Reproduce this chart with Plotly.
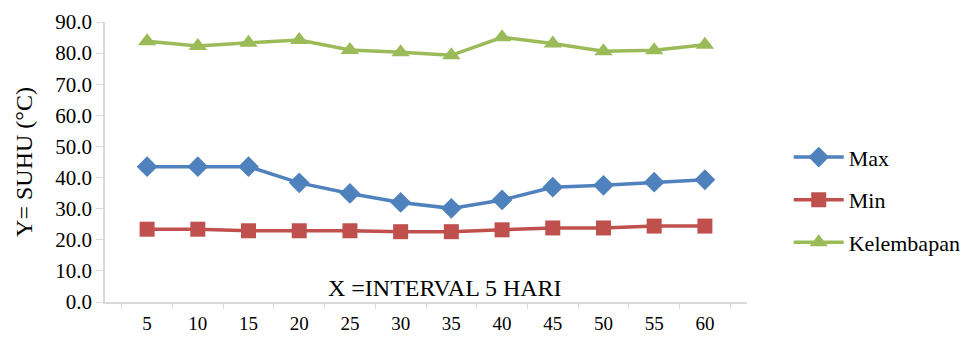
import plotly.graph_objects as go

categories = ["5", "10", "15", "20", "25", "30", "35", "40", "45", "50", "55", "60"]
max_vals = [43.5, 43.5, 43.5, 38.3, 34.9, 32.0, 30.1, 32.8, 36.9, 37.5, 38.5, 39.3]
min_vals = [23.4, 23.4, 22.9, 22.9, 22.9, 22.6, 22.6, 23.2, 23.8, 23.8, 24.4, 24.4]
kelembapan_vals = [83.8, 82.3, 83.3, 84.2, 81.0, 80.3, 79.3, 85.1, 83.1, 80.6, 80.9, 82.7]
y_ticks = [0, 10, 20, 30, 40, 50, 60, 70, 80, 90]

FONT = "'Liberation Serif', 'DejaVu Serif', serif"
fig = go.Figure()
series = [
    ("Max", max_vals, "#4F81BD", "diamond", 16),
    ("Min", min_vals, "#C0504D", "square", 15),
    ("Kelembapan", kelembapan_vals, "#9BBB59", "triangle-up", 16),
]
for name, vals, color, sym, size in series:
    fig.add_trace(go.Scatter(
        x=categories, y=vals, name=name, mode="lines+markers",
        legendgroup=name,
        line=dict(color=color, width=3.5),
        marker=dict(symbol=sym, size=size, color=color),
    ))

fig.update_layout(
    width=970, height=330,
    margin=dict(l=97, r=225, t=14, b=36),
    paper_bgcolor="white", plot_bgcolor="white",
    font=dict(family=FONT, size=18, color="black"),
    showlegend=True,
    legend=dict(x=1.065, y=0.365, xanchor="left", yanchor="middle",
                font=dict(family=FONT, size=22), tracegroupgap=11, itemwidth=50,
                bgcolor="rgba(0,0,0,0)"),
    xaxis=dict(type="category", showgrid=False, showline=True, linecolor="#d9d9d9",
               linewidth=1.5, ticks="outside", tickson="boundaries", ticklen=5,
               tickcolor="#d9d9d9", tickfont=dict(family=FONT, size=19), zeroline=False,
               automargin=False, ticklabelstandoff=3),
    yaxis=dict(range=[0, 90], tickvals=y_ticks, tickformat=".1f", showgrid=False,
               showline=True, linecolor="#d9d9d9", linewidth=1.5, ticks="outside",
               ticklen=7, tickcolor="#d9d9d9", tickfont=dict(family=FONT, size=21),
               zeroline=False, automargin=False,
               title=dict(text="Y= SUHU (°C)", font=dict(family=FONT, size=24), standoff=16)),
    annotations=[dict(text="X =INTERVAL 5 HARI", xref="paper", yref="paper",
                      x=0.529, y=0.05, xanchor="center", yanchor="middle",
                      showarrow=False, font=dict(family=FONT, size=24))],
)

fig.write_html("out.html")
